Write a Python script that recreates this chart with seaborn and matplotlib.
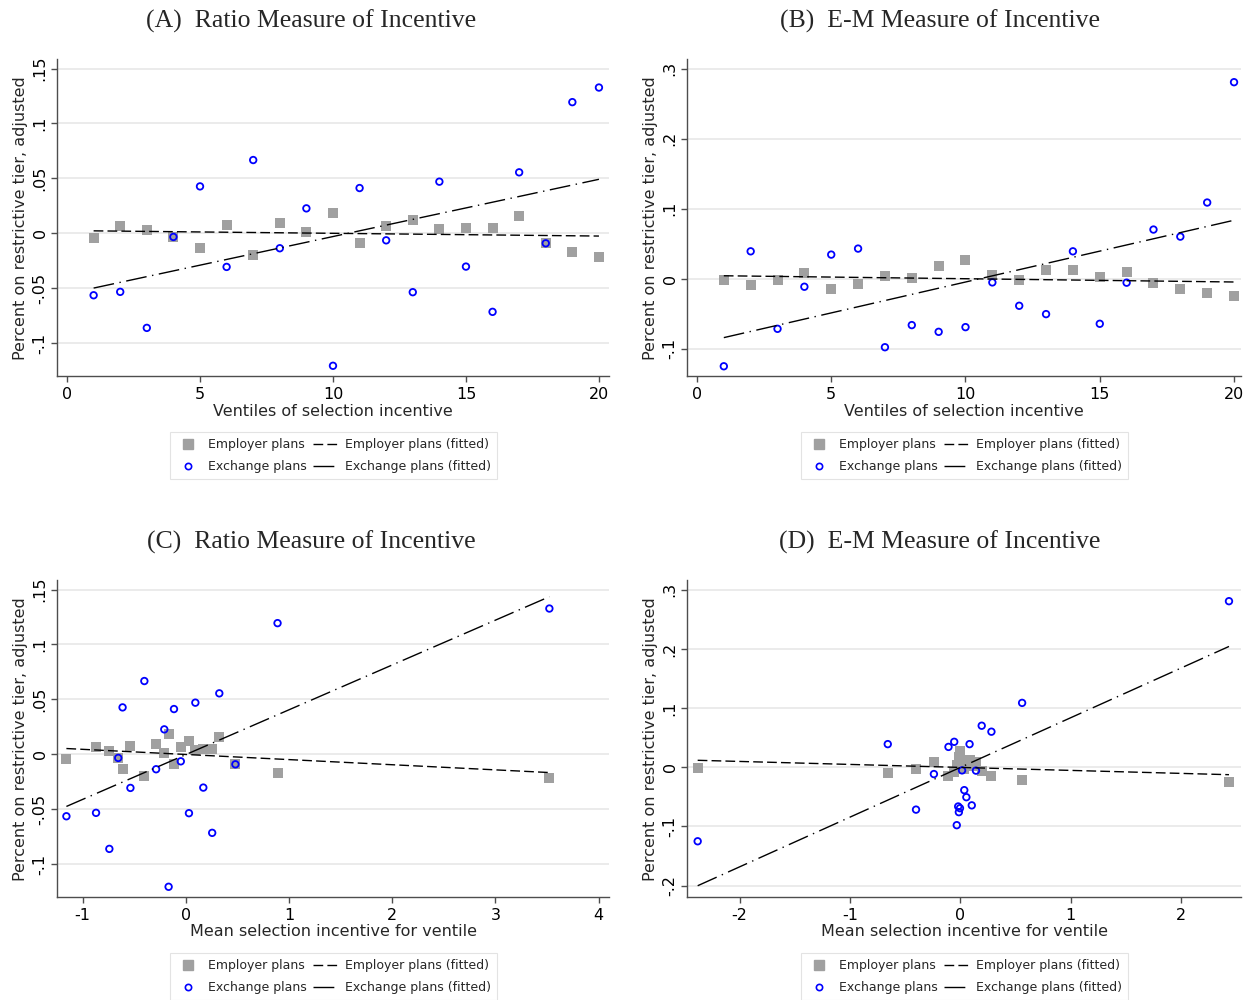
import matplotlib
matplotlib.use("Agg")
import matplotlib.pyplot as plt
from matplotlib.lines import Line2D
import seaborn as sns

sns.set_style("white")
plt.rcParams["font.family"] = ["DejaVu Sans"]

# ventiles 1..20
ventile = [1, 2, 3, 4, 5, 6, 7, 8, 9, 10, 11, 12, 13, 14, 15, 16, 17, 18, 19, 20]

# mean selection incentive within each ventile
mean_ratio = [-1.156, -0.869, -0.740, -0.654, -0.612, -0.536, -0.401, -0.287, -0.208, -0.166,
              -0.114, -0.048, 0.031, 0.093, 0.170, 0.256, 0.325, 0.481, 0.889, 3.522]
mean_em = [-2.379, -0.657, -0.401, -0.239, -0.107, -0.055, -0.032, -0.019, -0.013, -0.003,
           0.016, 0.036, 0.055, 0.084, 0.104, 0.142, 0.194, 0.282, 0.560, 2.434]

# percent on restrictive tier (adjusted)
emp_ratio = [-0.0045, 0.0064, 0.0030, -0.0033, -0.0130, 0.0079, -0.0197, 0.0097, 0.0012, 0.0188,
             -0.0091, 0.0067, 0.0121, 0.0042, 0.0048, 0.0045, 0.0155, -0.0091, -0.0170, -0.0218]
exch_ratio = [-0.0564, -0.0533, -0.0861, -0.0033, 0.0427, -0.0306, 0.0667, -0.0136, 0.0227, -0.1206,
              0.0412, -0.0064, -0.0536, 0.0470, -0.0303, -0.0715, 0.0555, -0.0091, 0.1194, 0.1327]
emp_em = [-0.0019, -0.0091, -0.0024, 0.0086, -0.0148, -0.0072, 0.0033, 0.0005, 0.0181, 0.0267,
          0.0048, -0.0024, 0.0129, 0.0129, 0.0024, 0.0091, -0.0062, -0.0143, -0.0210, -0.0253]
exch_em = [-0.1251, 0.0391, -0.0716, -0.0115, 0.0344, 0.0430, -0.0979, -0.0663, -0.0759, -0.0692,
           -0.0053, -0.0387, -0.0506, 0.0391, -0.0644, -0.0057, 0.0702, 0.0601, 0.1088, 0.2807]

yt_ratio = [-0.1, -0.05, 0, 0.05, 0.1, 0.15]
yl_ratio = ["-.1", "-.05", "0", ".05", ".1", ".15"]
yt_em_b = [-0.1, 0, 0.1, 0.2, 0.3]
yl_em_b = ["-.1", "0", ".1", ".2", ".3"]
yt_em_d = [-0.2, -0.1, 0, 0.1, 0.2, 0.3]
yl_em_d = ["-.2", "-.1", "0", ".1", ".2", ".3"]

titles = ["(A)  Ratio Measure of Incentive", "(B)  E-M Measure of Incentive",
          "(C)  Ratio Measure of Incentive", "(D)  E-M Measure of Incentive"]
legend_labels = ["Employer plans", "Exchange plans",
                 "Employer plans (fitted)", "Exchange plans (fitted)"]

GREY = "#a0a0a0"
BLUE = "#0000ff"
SPINE = "#4d4d4d"
emp_dash = (7, 3)
exch_dash = (15, 4, 1, 4)

fig = plt.figure(figsize=(12.46, 10), dpi=100)

panels = [
    dict(rect=[0.0460, 0.624, 0.4428, 0.3167], x=ventile, emp=emp_ratio, exch=exch_ratio,
         xlim=(-0.365, 20.38), ylim=(-0.1299, 0.1584), xt=[0, 5, 10, 15, 20],
         yt=yt_ratio, yl=yl_ratio, xlab="Ventiles of selection incentive"),
    dict(rect=[0.5516, 0.624, 0.4444, 0.3167], x=ventile, emp=emp_em, exch=exch_em,
         xlim=(-0.36, 20.26), ylim=(-0.139, 0.3134), xt=[0, 5, 10, 15, 20],
         yt=yt_em_b, yl=yl_em_b, xlab="Ventiles of selection incentive"),
    dict(rect=[0.0460, 0.103, 0.4428, 0.3167], x=mean_ratio, emp=emp_ratio, exch=exch_ratio,
         xlim=(-1.244, 4.10), ylim=(-0.1299, 0.1584), xt=[-1, 0, 1, 2, 3, 4],
         yt=yt_ratio, yl=yl_ratio, xlab="Mean selection incentive for ventile"),
    dict(rect=[0.5516, 0.103, 0.4444, 0.3167], x=mean_em, emp=emp_em, exch=exch_em,
         xlim=(-2.473, 2.543), ylim=(-0.2193, 0.316), xt=[-2, -1, 0, 1, 2],
         yt=yt_em_d, yl=yl_em_d, xlab="Mean selection incentive for ventile"),
]
title_pos = [(311, 21), (940, 21), (311, 542), (940, 542)]

for p, title, (tx, ty) in zip(panels, titles, title_pos):
    ax = fig.add_axes(p["rect"])
    sns.scatterplot(x=p["x"], y=p["emp"], ax=ax, marker="s", color=GREY, s=48,
                    linewidth=0, zorder=2)
    sns.scatterplot(x=p["x"], y=p["exch"], ax=ax, marker="o", s=22, facecolor="none",
                    edgecolor=BLUE, linewidth=1.3, zorder=3)
    sns.regplot(x=p["x"], y=p["emp"], ax=ax, scatter=False, ci=None, color="black",
                line_kws=dict(lw=1.0, dashes=emp_dash, zorder=4))
    sns.regplot(x=p["x"], y=p["exch"], ax=ax, scatter=False, ci=None, color="black",
                line_kws=dict(lw=1.0, dashes=exch_dash, zorder=4))

    ax.set_xlim(p["xlim"])
    ax.set_ylim(p["ylim"])
    ax.set_xticks(p["xt"])
    ax.set_xticklabels([str(v) for v in p["xt"]])
    ax.set_yticks(p["yt"])
    ax.set_yticklabels(p["yl"], rotation=90, va="center")
    ax.yaxis.grid(True, color="#e8e8e8", lw=1.2)
    ax.set_axisbelow(True)
    for s in ["top", "right"]:
        ax.spines[s].set_visible(False)
    for s in ["left", "bottom"]:
        ax.spines[s].set_color(SPINE)
        ax.spines[s].set_linewidth(1.0)
    ax.tick_params(axis="both", direction="out", length=4.5, width=1, color=SPINE,
                   labelsize=11.5, labelcolor="black")
    ax.tick_params(axis="y", pad=2.5, left=True)
    ax.tick_params(axis="x", pad=3.5, bottom=True)
    ax.set_xlabel(p["xlab"], fontsize=11.5, labelpad=1)
    ax.set_ylabel("Percent on restrictive tier, adjusted", fontsize=11.5, labelpad=3)

    handles = [
        Line2D([], [], marker="s", color=GREY, ls="none", ms=7),
        Line2D([], [], marker="o", mfc="none", mec=BLUE, mew=1.2, ls="none", ms=4.5),
        Line2D([], [], color="black", lw=1.0, dashes=emp_dash),
        Line2D([], [], color="black", lw=1.0, dashes=exch_dash),
    ]
    leg = ax.legend(handles, legend_labels, loc="upper center", bbox_to_anchor=(0.5, -0.158),
                    ncol=2, fontsize=9.0, frameon=True, fancybox=False, edgecolor="#dddddd",
                    handlelength=2.0, handletextpad=0.6, columnspacing=0.5,
                    labelspacing=0.72, borderpad=0.45)
    leg.get_frame().set_linewidth(0.8)

    fig.text(tx / 1246, 1 - ty / 1000, title, ha="center", va="center",
             fontsize=18.5, family="Liberation Serif")

fig.savefig("out.png", dpi=100)
